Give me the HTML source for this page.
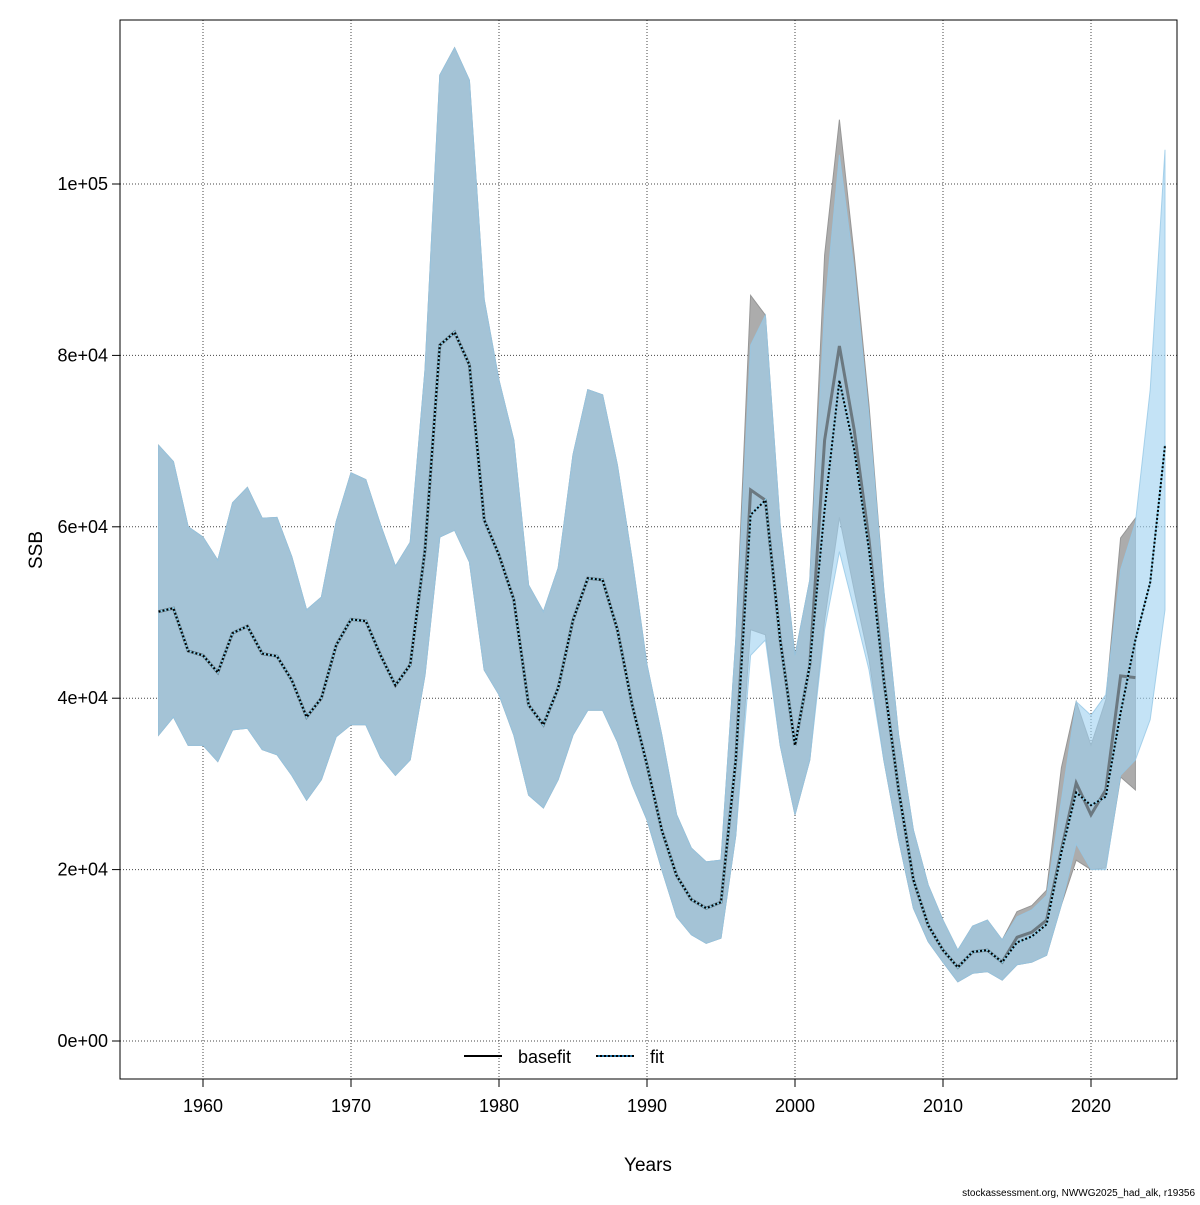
<!DOCTYPE html>
<html><head><meta charset="utf-8"><style>
body{margin:0;background:#fff;font-family:"Liberation Sans",sans-serif;}
svg text{font-family:"Liberation Sans",sans-serif;}
</style></head><body>
<svg id="chart" width="1200" height="1200" xmlns="http://www.w3.org/2000/svg"></svg>
<script>
const years=[];for(let y=1957;y<=2025;y++)years.push(y);
const baseMid=[50.1,50.5,45.5,45.0,43.0,47.6,48.4,45.2,44.9,42.1,37.8,40.0,46.2,49.2,49.0,45.0,41.5,43.9,57.3,81.2,82.7,78.9,60.8,56.7,51.5,39.2,36.9,41.2,49.1,54.0,53.8,48.0,39.2,32.2,24.6,19.3,16.5,15.5,16.2,32.8,64.3,63.1,46.8,34.5,43.9,70.1,81.1,71.3,58.5,42.1,29.3,18.8,13.5,10.6,8.6,10.4,10.6,9.2,12.1,12.7,14.1,22.3,30.1,26.4,29.3,42.6,42.4];
const baseHi=[69.5,67.6,60.0,58.8,56.1,62.8,64.6,61.0,61.1,56.5,50.3,51.8,60.6,66.3,65.5,60.2,55.4,58.2,78.3,112.7,115.9,112.1,86.5,77.1,70.1,53.2,50.1,55.2,68.4,76.0,75.4,67.2,56.1,43.9,35.7,26.4,22.5,20.9,21.1,46.8,87.0,84.7,60.2,45.0,53.8,91.7,107.5,91.7,74.2,52.6,35.7,24.6,18.2,14.1,10.6,13.4,14.1,11.8,15.1,15.8,17.6,31.9,39.6,34.5,39.8,58.7,61.0];
const baseLo=[35.7,37.8,34.5,34.5,32.6,36.3,36.5,34.0,33.4,31.0,28.1,30.5,35.5,36.9,36.9,33.1,31.0,32.8,42.7,58.8,59.6,55.9,43.3,40.4,35.7,28.7,27.2,30.5,35.7,38.6,38.6,34.9,29.9,25.8,20.0,14.5,12.4,11.4,12.0,24.0,48.0,47.4,34.5,26.4,32.8,49.1,61.1,52.6,44.5,32.8,23.5,15.5,11.6,9.2,6.9,7.9,8.1,7.1,8.9,9.2,10.0,15.9,21.1,20.0,20.2,30.8,29.3];
const fitMid=[50.1,50.5,45.5,45.0,43.0,47.6,48.4,45.2,44.9,42.1,37.8,40.0,46.2,49.2,49.0,45.0,41.5,43.9,57.3,81.2,82.7,78.9,60.8,56.7,51.5,39.2,36.9,41.2,49.1,54.0,53.8,48.0,39.2,32.2,24.6,19.3,16.5,15.5,16.2,32.8,61.4,63.1,46.8,34.5,43.9,62.0,77.1,69.0,57.3,42.1,29.3,18.8,13.5,10.6,8.6,10.4,10.6,9.2,11.5,12.2,13.6,22.0,29.0,27.5,28.5,38.3,46.8,53.5,69.5];
const fitHi=[69.5,67.6,60.0,58.8,56.1,62.8,64.6,61.0,61.1,56.5,50.3,51.8,60.6,66.3,65.5,60.2,55.4,58.2,78.3,112.7,115.9,112.1,86.5,77.1,70.1,53.2,50.1,55.2,68.4,76.0,75.4,67.2,56.1,43.9,35.7,26.4,22.5,20.9,21.1,46.8,81.2,84.7,60.2,45.0,53.8,85.3,103.4,90.0,73.0,52.6,35.7,24.6,18.2,14.1,10.6,13.4,14.1,11.8,14.5,15.3,17.0,28.1,39.6,38.0,40.4,55.0,60.5,76.0,104.0];
const fitLo=[35.7,37.8,34.5,34.5,32.6,36.3,36.5,34.0,33.4,31.0,28.1,30.5,35.5,36.9,36.9,33.1,31.0,32.8,42.7,58.8,59.6,55.9,43.3,40.4,35.7,28.7,27.2,30.5,35.7,38.6,38.6,34.9,29.9,25.8,20.0,14.5,12.4,11.4,12.0,24.0,45.0,46.8,34.5,26.4,32.8,48.0,57.1,50.3,43.3,32.8,23.5,15.5,11.6,9.2,6.9,7.9,8.1,7.1,8.9,9.2,10.0,15.9,23.0,20.0,20.0,31.0,32.8,37.5,50.3];
const xTicks=[1960,1970,1980,1990,2000,2010,2020];
const yTicks=[0,20,40,60,80,100];
const yLabels=["0e+00","2e+04","4e+04","6e+04","8e+04","1e+05"];

const NS="http://www.w3.org/2000/svg";
const svg=document.getElementById('chart');
const X=y=>203+(y-1960)*14.8;
const Y=v=>1041-v*8.57;
function el(t,a,p){const e=document.createElementNS(NS,t);for(const k in a)e.setAttribute(k,a[k]);(p||svg).appendChild(e);return e;}
xTicks.forEach(t=>{const l=el('line',{x1:X(t),x2:X(t),y1:20,y2:1079,stroke:'#444','stroke-width':1,'stroke-dasharray':'1,2'});

});
yTicks.forEach(t=>{const l=el('line',{x1:120,x2:1177,y1:Y(t),y2:Y(t),stroke:'#444','stroke-width':1,'stroke-dasharray':'1,2'});

});
function band(hi,lo,fill,stroke){
 let pts=[];for(let i=0;i<hi.length;i++)pts.push(X(years[i])+','+Y(hi[i]));
 for(let i=lo.length-1;i>=0;i--)pts.push(X(years[i])+','+Y(lo[i]));
 return el('polygon',{points:pts.join(' '),fill:fill,stroke:stroke,'stroke-width':1});
}
const b1=band(baseHi,baseLo,'rgb(172,172,172)','rgb(150,150,150)');


const b2=band(fitHi,fitLo,'rgba(159,210,240,0.62)','rgba(150,200,230,0.8)');


function line(arr,attrs){return el('polyline',Object.assign({points:arr.map((v,i)=>X(years[i])+','+Y(v)).join(' '),fill:'none'},attrs));}
const l1=line(baseMid,{stroke:'rgba(70,70,70,0.6)','stroke-width':3});


const l2=line(fitMid,{stroke:'#87CEEB','stroke-width':2});


const l3=line(fitMid,{stroke:'#000','stroke-width':2,'stroke-dasharray':'2,2'});


const bx=el('rect',{x:120,y:20,width:1057,height:1059,fill:'none',stroke:'#000','stroke-width':1});


xTicks.forEach(t=>{el('line',{x1:X(t),x2:X(t),y1:1079,y2:1087,stroke:'#000'});
const tx=el('text',{x:X(t),y:1112,'text-anchor':'middle','font-size':18});tx.textContent=t;

});
yTicks.forEach((t,i)=>{el('line',{x1:112,x2:120,y1:Y(t),y2:Y(t),stroke:'#000'});
const tx=el('text',{x:108,y:Y(t)+6,'text-anchor':'end','font-size':18});tx.textContent=yLabels[i];

});
const xt=el('text',{x:648,y:1171,'text-anchor':'middle','font-size':19});xt.textContent='Years';


const yt=el('text',{x:42,y:550,'text-anchor':'middle','font-size':19,transform:'rotate(-90 42 550)'});yt.textContent='SSB';


const lg=el('g',{});


el('line',{x1:464,x2:502,y1:1056,y2:1056,stroke:'#000','stroke-width':2},lg);
const t1=el('text',{x:518,y:1063,'font-size':18},lg);t1.textContent='basefit';


el('line',{x1:596,x2:634,y1:1056,y2:1056,stroke:'#1f6f9f','stroke-width':2},lg);
el('line',{x1:596,x2:634,y1:1056,y2:1056,stroke:'#000','stroke-width':2,'stroke-dasharray':'2,2'},lg);
const t2=el('text',{x:650,y:1063,'font-size':18},lg);t2.textContent='fit';


const ft=el('text',{x:1195,y:1196,'text-anchor':'end','font-size':10});ft.textContent='stockassessment.org, NWWG2025_had_alk, r19356';


</script>
</body></html>
